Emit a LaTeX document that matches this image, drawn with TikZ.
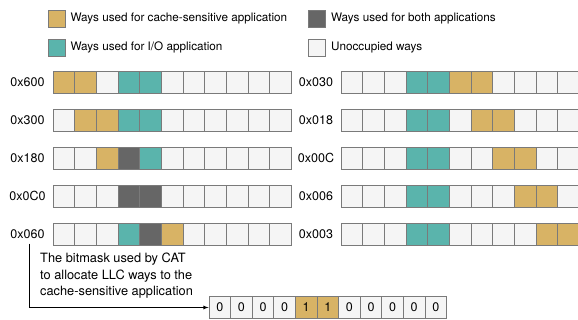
\documentclass[tikz,border=0pt]{standalone}
\usepackage{fontspec}
\setmainfont{TeX Gyre Heros}
\usepackage{xcolor}
\usepackage{tikz}
\usetikzlibrary{shapes,arrows,positioning,calc}

\definecolor{cs}{HTML}{D8B365}
\definecolor{io}{HTML}{5AB4AC}
\definecolor{both}{HTML}{666666}
\definecolor{free}{HTML}{F5F5F5}
\definecolor{rim}{HTML}{7A7A7A}

\begin{document}
\begin{tikzpicture}[
    x=1pt, y=-1pt,
    way/.style={rectangle, draw=rim, line width=0.9pt, minimum width=21.67pt, minimum height=22pt, inner sep=0pt, font=\fontsize{12.5}{14}\selectfont},
    key/.style={rectangle, draw=rim, line width=0.9pt, minimum size=17pt, inner sep=0pt},
    lab/.style={font=\fontsize{12.5}{14}\selectfont, inner sep=0pt},
    txt/.style={font=\fontsize{11.7}{14}\selectfont, anchor=west, inner sep=0pt},
    arr/.style={-latex, thick}
]
    \useasboundingbox (0,0) rectangle (578,320);

    % Legend
    \node[key, fill=cs] (k1) at (56.5,18.5) {};
    \node[txt, right=5pt of k1] (t1) {Ways used for cache-sensitive application};
    \node[key, fill=io] (k2) at (56.5,47.5) {};
    \node[txt, right=5pt of k2] (t2) {Ways used for I/O application};
    \node[key, fill=both] (k3) at (317,18.5) {};
    \node[txt, right=5pt of k3] (t3) {Ways used for both applications};
    \node[key, fill=free] (k4) at (317,47.5) {};
    \node[txt, right=5pt of k4] (t4) {Unoccupied ways};

    % Left column of bitmasks
    \foreach \lab/\cells [count=\r] in {
        0x600/{cs,cs,free,io,io,free,free,free,free,free,free},
        0x300/{free,cs,cs,io,io,free,free,free,free,free,free},
        0x180/{free,free,cs,both,io,free,free,free,free,free,free},
        0x0C0/{free,free,free,both,both,free,free,free,free,free,free},
        0x060/{free,free,free,io,both,cs,free,free,free,free,free}} {
        \node[lab] (ll\r) at (27.5, 82+38*\r-38) {\lab};
        \foreach \c [count=\k] in \cells {
            \node[way, fill=\c] (l\r-\k) at (53+21.67*\k-10.835, 82+38*\r-38) {};
        }
    }

    % Right column of bitmasks
    \foreach \lab/\cells [count=\r] in {
        0x030/{free,free,free,io,io,cs,cs,free,free,free,free},
        0x018/{free,free,free,io,io,free,cs,cs,free,free,free},
        0x00C/{free,free,free,io,io,free,free,cs,cs,free,free},
        0x006/{free,free,free,io,io,free,free,free,cs,cs,free},
        0x003/{free,free,free,io,io,free,free,free,free,cs,cs}} {
        \node[lab] (rl\r) at (316, 82+38*\r-38) {\lab};
        \foreach \c [count=\k] in \cells {
            \node[way, fill=\c] (r\r-\k) at (341+21.67*\k-10.835, 82+38*\r-38) {};
        }
    }

    % Bit values of 0x060
    \foreach \b [count=\k] in {0,0,0,0,1,1,0,0,0,0,0} {
        \ifnum\b=1 \def\c{cs}\else \def\c{free}\fi
        \node[way, fill=\c, minimum width=21.6pt, minimum height=21.6pt] (m\k) at (209+21.6*\k-10.8, 307.5) {\b};
    }

    \node[txt, anchor=north west, align=left, font=\fontsize{12.8}{16.5}\selectfont] (note) at (40,253) {The bitmask used by CAT\\to allocate LLC ways to the\\cache-sensitive application};

    \draw[arr] ([xshift=2pt,yshift=-5pt]ll5.south) |- (m1.west);
\end{tikzpicture}
\end{document}
